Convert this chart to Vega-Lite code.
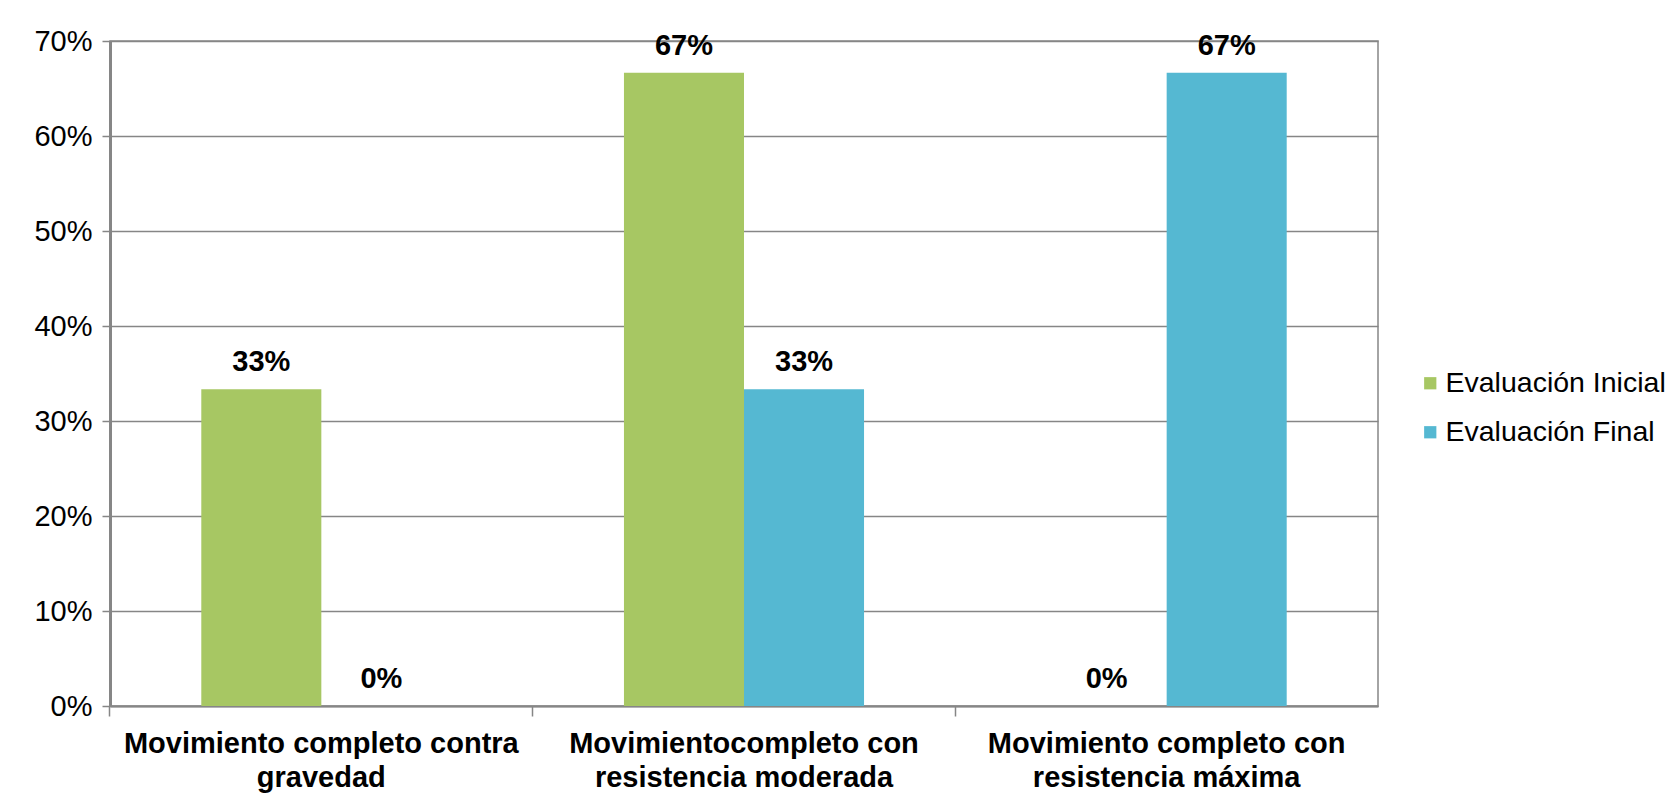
{
  "$schema": "https://vega.github.io/schema/vega-lite/v6.json",
  "autosize": "none",
  "width": 1268,
  "height": 665,
  "padding": {"left": 110, "top": 41, "right": 300, "bottom": 96},
  "background": "white",
  "data": {
    "values": [
      {"categoria": "Movimiento completo contra gravedad", "serie": "Evaluación Inicial", "valor": 0.3333},
      {"categoria": "Movimiento completo contra gravedad", "serie": "Evaluación Final", "valor": 0.0},
      {"categoria": "Movimientocompleto con resistencia moderada", "serie": "Evaluación Inicial", "valor": 0.6667},
      {"categoria": "Movimientocompleto con resistencia moderada", "serie": "Evaluación Final", "valor": 0.3333},
      {"categoria": "Movimiento completo con resistencia máxima", "serie": "Evaluación Inicial", "valor": 0.0},
      {"categoria": "Movimiento completo con resistencia máxima", "serie": "Evaluación Final", "valor": 0.6667}
    ]
  },
  "encoding": {
    "x": {
      "field": "categoria",
      "type": "nominal",
      "sort": null,
      "scale": {"paddingInner": 0.432, "paddingOuter": 0.216},
      "axis": {
        "title": null,
        "labelAngle": 0,
        "labelFont": "Liberation Sans",
        "labelFontSize": 29,
        "labelFontWeight": "bold",
        "labelColor": "black",
        "labelLimit": 0,
        "labelPadding": 13,
        "labelLineHeight": 34,
        "labelBaseline": "top",
        "labelExpr": "datum.value == 'Movimiento completo contra gravedad' ? ['Movimiento completo contra', 'gravedad'] : datum.value == 'Movimientocompleto con resistencia moderada' ? ['Movimientocompleto con', 'resistencia moderada'] : ['Movimiento completo con', 'resistencia máxima']",
        "bandPosition": -0.381,
        "ticks": true,
        "tickSize": 10,
        "tickColor": "#868686",
        "tickWidth": 1.5,
        "domainColor": "#868686",
        "domainWidth": 2,
        "grid": false
      }
    },
    "xOffset": {
      "field": "serie",
      "type": "nominal",
      "sort": ["Evaluación Inicial", "Evaluación Final"],
      "scale": {"paddingInner": 0, "paddingOuter": 0}
    },
    "y": {
      "field": "valor",
      "type": "quantitative",
      "scale": {"domain": [0, 0.7], "nice": false},
      "axis": {
        "title": null,
        "format": ".0%",
        "values": [0, 0.1, 0.2, 0.3, 0.4, 0.5, 0.6, 0.7],
        "labelFont": "Liberation Sans",
        "labelFontSize": 29,
        "labelColor": "black",
        "labelPadding": 10,
        "tickSize": 8,
        "tickColor": "#868686",
        "tickWidth": 1.5,
        "domainColor": "#868686",
        "domainWidth": 3,
        "grid": true,
        "gridColor": "#868686",
        "gridWidth": 1.5
      }
    }
  },
  "layer": [
    {
      "mark": {"type": "bar"},
      "encoding": {
        "color": {
          "field": "serie",
          "type": "nominal",
          "sort": ["Evaluación Inicial", "Evaluación Final"],
          "scale": {"domain": ["Evaluación Inicial", "Evaluación Final"], "range": ["#A7C763", "#55B8D2"]},
          "legend": {
            "title": null,
            "orient": "none",
            "legendX": 1306,
            "legendY": 328,
            "symbolType": "square",
            "symbolSize": 150,
            "symbolStrokeWidth": 0,
            "labelFont": "Liberation Sans",
            "labelFontSize": 28.5,
            "labelColor": "black",
            "labelLimit": 0,
            "labelOffset": 1,
            "rowPadding": 20
          }
        }
      }
    },
    {
      "mark": {
        "type": "text",
        "font": "Liberation Sans",
        "fontSize": 29,
        "fontWeight": "bold",
        "color": "black",
        "baseline": "alphabetic",
        "dy": -18
      },
      "encoding": {
        "text": {"field": "valor", "type": "quantitative", "format": ".0%"}
      }
    }
  ],
  "config": {
    "view": {"stroke": "#868686", "strokeWidth": 1.5}
  }
}
